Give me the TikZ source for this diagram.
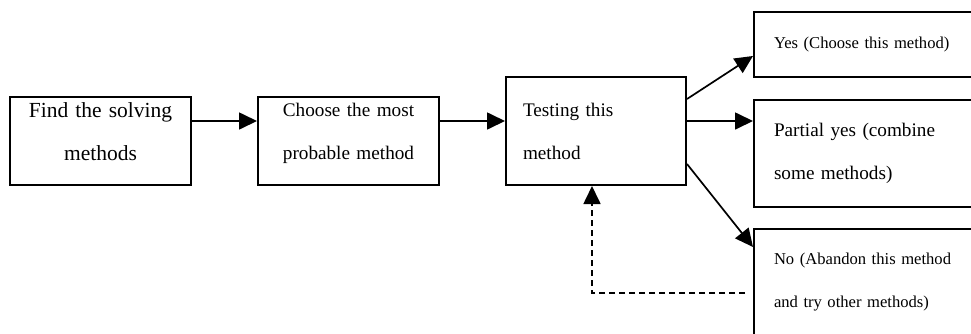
\documentclass[tikz,border=0pt]{standalone}
\usepackage{fontspec}
\setmainfont{Liberation Serif}
\usetikzlibrary{arrows.meta, positioning}
\tikzset{
    stage/.style={rectangle, draw=black, line width=2pt, minimum height=88pt, minimum width=181pt, inner sep=0pt, text width=171pt, align=center},
    result/.style={rectangle, draw=black, line width=2pt, anchor=north west, inner xsep=20pt, inner ysep=0pt, text width=190pt, align=left},
    arrow/.style={line width=1.7pt, -{Triangle[length=18pt, width=17pt]}}
}

\begin{document}
\begin{tikzpicture}[x=1pt, y=-1pt]

        \clip (0,0) rectangle (971,333);

        % Nodes
        \node (find) [stage, anchor=north west, font=\fontsize{21.5}{43}\selectfont, text depth=61pt] at (9,96) {Find the solving\\methods};

        \node (choose) [stage, right=65pt of find, font=\fontsize{19.2}{43}\selectfont, text depth=63pt] {Choose the most\\probable method};

        \node (testing) [stage, right=65pt of choose.south east, anchor=south west, minimum width=180pt, minimum height=108pt, text width=146pt, align=left, font=\fontsize{19.2}{43}\selectfont] {Testing this\\method};

        \node (yes) [result, minimum height=65pt, font=\fontsize{16.6}{43}\selectfont] at (753,11) {Yes (Choose this method)};

        \node (partial) [result, minimum height=107pt, font=\fontsize{19.2}{43}\selectfont] at (753,99) {Partial yes (combine\\some methods)};

        \node (no) [result, minimum height=107pt, font=\fontsize{16.6}{43}\selectfont] at (753,228) {No (Abandon this method\\and try other methods)};

        % Arrows
        \draw[arrow] ([yshift=20pt]find.east) -- ([yshift=20pt]choose.west);
        \draw[arrow] ([yshift=20pt]choose.east) -- ([yshift=20pt]choose.east -| testing.west);
        \draw[arrow] ([yshift=32pt]testing.east) -- ([yshift=-11.5pt]yes.west);
        \draw[arrow] ([yshift=10pt]testing.east) -- ([yshift=10pt]testing.east -| partial.west);
        \draw[arrow] ([yshift=-33pt]testing.east) -- ([yshift=-19pt]no.north west);
        \draw[arrow, dash pattern=on 6pt off 4pt] ([xshift=-8pt, yshift=-10.5pt]no.west) -| ([xshift=-4pt]testing.south);

\end{tikzpicture}
\end{document}
